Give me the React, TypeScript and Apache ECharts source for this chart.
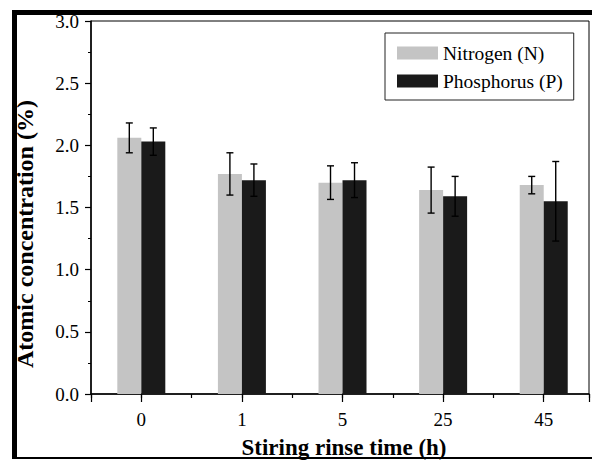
import React, { useEffect, useRef } from "react";
import * as echarts from "echarts";

const categories = ["0", "1", "5", "25", "45"];
const nitrogen = [2.06, 1.77, 1.7, 1.64, 1.68];
const nitrogenErr = [0.12, 0.17, 0.135, 0.185, 0.07];
const phosphorus = [2.03, 1.72, 1.72, 1.59, 1.55];
const phosphorusErr = [0.11, 0.13, 0.14, 0.16, 0.32];
const yTicks = ["0.0", "0.5", "1.0", "1.5", "2.0", "2.5", "3.0"];

const SERIF = "Liberation Serif";

export default function App() {
  const ref = useRef<HTMLDivElement>(null);
  useEffect(() => {
    if (!ref.current) return;
    const chart = echarts.init(ref.current, undefined, { renderer: "svg" });
    const idx = categories.map((_, i) => i);
    const errRender = (offset: number) => (params: any, api: any) => {
      const x = api.value(0);
      const v = api.value(1);
      const e = api.value(2);
      const top = api.coord([x, v + e]);
      const bot = api.coord([x, v - e]);
      const cx = top[0] + offset;
      const style = { stroke: "#000", lineWidth: 1.4 };
      return {
        type: "group",
        children: [
          { type: "line", shape: { x1: cx, y1: top[1], x2: cx, y2: bot[1] }, style },
          { type: "line", shape: { x1: cx - 3.5, y1: top[1], x2: cx + 3.5, y2: top[1] }, style },
          { type: "line", shape: { x1: cx - 3.5, y1: bot[1], x2: cx + 3.5, y2: bot[1] }, style },
        ],
      };
    };
    const option: any = {
      animation: false,
      backgroundColor: "#fff",
      textStyle: { fontFamily: SERIF },
      grid: {
        left: 91,
        top: 21,
        right: 2,
        bottom: 66,
        show: true,
        borderColor: "#000",
        borderWidth: 1,
        backgroundColor: "transparent",
      },
      legend: {
        orient: "vertical",
        left: 385,
        top: 33,
        padding: [10, 11, 9, 12],
        borderColor: "#222",
        borderWidth: 1,
        itemWidth: 41,
        itemHeight: 13,
        itemGap: 8,
        icon: "rect",
        data: ["Nitrogen (N)", "Phosphorus (P)"],
        textStyle: { fontFamily: SERIF, fontSize: 19.5, color: "#000" },
      },
      xAxis: [
        {
          type: "value",
          min: -0.5,
          max: 4.45,
          interval: 0.5,
          position: "bottom",
          axisLine: { show: true, onZero: false, lineStyle: { color: "#000", width: 1.5 } },
          axisTick: { show: true, length: 4, lineStyle: { color: "#000", width: 1.2 } },
          axisLabel: {
            margin: 16,
            fontFamily: SERIF,
            fontSize: 19,
            color: "#000",
            formatter: (v: number) => {
              const r = Math.round(v);
              return Math.abs(v - r) < 1e-6 && r >= 0 && r < categories.length ? categories[r] : "";
            },
          },
          splitLine: { show: false },
        },
        {
          type: "value",
          min: -0.5,
          max: 4.45,
          position: "bottom",
          axisLine: { show: false, onZero: false },
          axisTick: { show: true, length: 8, lineStyle: { color: "#000", width: 1.2 } },
          axisLabel: { show: false },
          splitLine: { show: false },
        },
      ],
      yAxis: {
        type: "value",
        min: 0,
        max: 3,
        interval: 0.5,
        axisLine: { show: true, onZero: false, lineStyle: { color: "#000", width: 1.5 } },
        axisTick: { show: true, length: 6, lineStyle: { color: "#000", width: 1.2 } },
        minorTick: { show: true, splitNumber: 2, length: 3, lineStyle: { color: "#000", width: 1 } },
        axisLabel: {
          margin: 12,
          fontFamily: SERIF,
          fontSize: 19,
          color: "#000",
          formatter: (v: number) => yTicks[Math.round(v * 2)] ?? "",
        },
        splitLine: { show: false },
      },
      series: [
        {
          name: "Nitrogen (N)",
          type: "bar",
          xAxisIndex: 0,
          barWidth: 24,
          barGap: "0%",
          itemStyle: { color: "#c4c4c4" },
          data: idx.map((i) => [i, nitrogen[i]]),
        },
        {
          name: "Phosphorus (P)",
          type: "bar",
          xAxisIndex: 0,
          barWidth: 24,
          barGap: "0%",
          itemStyle: { color: "#1a1a1a" },
          data: idx.map((i) => [i, phosphorus[i]]),
        },
        {
          name: "errN",
          type: "custom",
          xAxisIndex: 0,
          z: 5,
          renderItem: errRender(-12),
          encode: { x: 0, y: 1 },
          data: idx.map((i) => [i, nitrogen[i], nitrogenErr[i]]),
        },
        {
          name: "errP",
          type: "custom",
          xAxisIndex: 0,
          z: 5,
          renderItem: errRender(12),
          encode: { x: 0, y: 1 },
          data: idx.map((i) => [i, phosphorus[i], phosphorusErr[i]]),
        },
      ],
      graphic: [
        {
          type: "text",
          x: 25,
          y: 234,
          rotation: Math.PI / 2,
          style: {
            text: "Atomic concentration (%)",
            font: `bold 24px "${SERIF}"`,
            fill: "#000",
            textAlign: "center",
            textVerticalAlign: "middle",
          },
        },
        {
          type: "text",
          x: 344,
          y: 447,
          style: {
            text: "Stiring rinse time (h)",
            font: `bold 23px "${SERIF}"`,
            fill: "#000",
            textAlign: "center",
            textVerticalAlign: "middle",
          },
        },
        { type: "rect", z: 100, shape: { x: 12, y: 10, width: 5, height: 449 }, style: { fill: "#000" } },
        { type: "rect", z: 100, shape: { x: 12, y: 10, width: 580, height: 5 }, style: { fill: "#000" } },
        { type: "rect", z: 100, shape: { x: 12, y: 457, width: 580, height: 2 }, style: { fill: "#000" } },
      ],
    };
    chart.setOption(option);
    return () => chart.dispose();
  }, []);
  return (
    <div
      ref={ref}
      style={{ position: "absolute", left: 0, top: 0, width: 592, height: 460 }}
    />
  );
}
